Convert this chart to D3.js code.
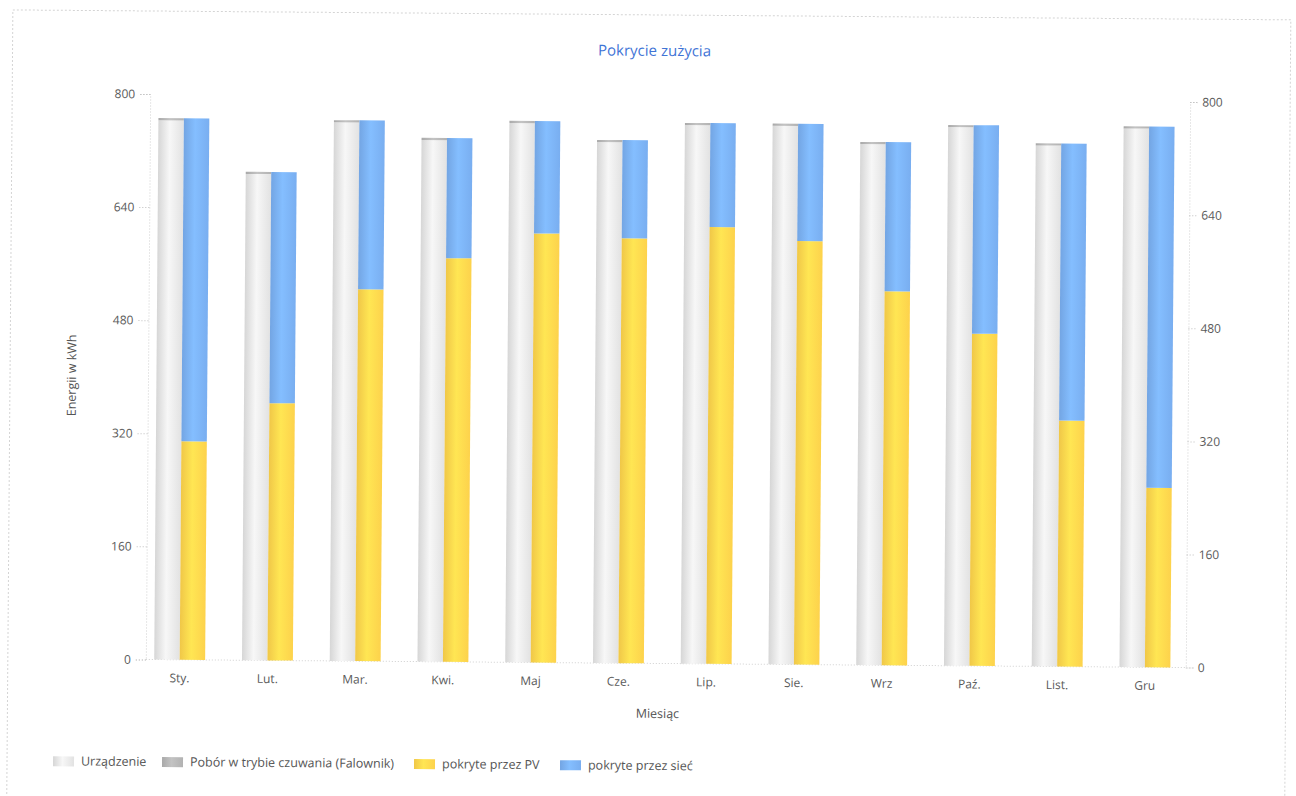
<!DOCTYPE html>
<html>
<head>
<meta charset="utf-8">
<script src="https://cdn.jsdelivr.net/npm/d3@7"></script>
<style>
  body { margin: 0; background: #fff; }
  svg text { font-family: "Open Sans", "DejaVu Sans", sans-serif; }
</style>
</head>
<body>
<svg id="chart" width="1296" height="796"></svg>
<script>
// dane wykresu
const months = ["Sty.", "Lut.", "Mar.", "Kwi.", "Maj", "Cze.", "Lip.", "Sie.", "Wrz", "Paź.", "List.", "Gru"];
const urzadzenie = [763, 688, 762, 738, 763, 737, 762, 762, 737, 762, 737, 762];
const czuwanie   = [3, 3, 3, 3, 3, 3, 3, 3, 3, 3, 3, 3];
const pokrytePV  = [309, 364, 526, 571, 607, 601, 618, 599, 529, 470, 348, 254];
const pokryteSiec = [457, 327, 239, 170, 159, 139, 147, 166, 211, 295, 392, 511];
const yTicks = [0, 160, 320, 480, 640, 800];
const legendNames = ["Urządzenie", "Pobór w trybie czuwania (Falownik)", "pokryte przez PV", "pokryte przez sieć"];

const colors = {
  urz: "#e2e2e2",
  czuw: "#b2b2b2",
  pv: "#fdd24c",
  siec: "#79aef0"
};

const svg = d3.select("#chart");
const defs = svg.append("defs");

// gradient "szklany" na słupkach
function glass(id, base) {
  const c = d3.color(base);
  const g = defs.append("linearGradient").attr("id", id)
    .attr("x1", "0%").attr("x2", "100%").attr("y1", "0%").attr("y2", "0%");
  g.append("stop").attr("offset", "0%").attr("stop-color", c.darker(0.15));
  g.append("stop").attr("offset", "45%").attr("stop-color", c.brighter(0.25));
  g.append("stop").attr("offset", "100%").attr("stop-color", c);
}
glass("gUrz", colors.urz);
glass("gCzuw", colors.czuw);
glass("gPv", colors.pv);
glass("gSiec", colors.siec);

// lekki obrót jak na skanie
const root = svg.append("g").attr("transform", "rotate(0.445, 665, 380)");

// ramka
root.append("rect")
  .attr("x", 10).attr("y", 15).attr("width", 1278).attr("height", 790)
  .attr("fill", "none").attr("stroke", "#d4d4d4").attr("stroke-dasharray", "2,2");

const plot = { left: 148, right: 1188, top: 98, bottom: 663.5 };

const x = d3.scaleBand().domain(months).range([138, 1191]).paddingInner(0).paddingOuter(0);
const groupW = x.bandwidth() * 0.58;
const xs = d3.scaleBand().domain(["a", "b"]).range([-groupW / 2, groupW / 2]).padding(0);
const y = d3.scaleLinear().domain([0, 800]).range([plot.bottom, plot.top]);

// tytuł
root.append("text")
  .attr("x", 652).attr("y", 56)
  .attr("text-anchor", "middle")
  .attr("font-size", 15)
  .attr("fill", "#3f74d6")
  .text("Pokrycie zużycia");

// osie
const axisLeft = d3.axisLeft(y).tickValues(yTicks).tickSize(10).tickPadding(5);
const axisRight = d3.axisRight(y).tickValues(yTicks).tickSize(8).tickPadding(4);
const axisBottom = d3.axisBottom(x).tickSize(0).tickPadding(14);

function styleAxis(sel) {
  sel.select(".domain").attr("stroke", "#cfcfcf").attr("stroke-dasharray", "1,2");
  sel.selectAll(".tick line").attr("stroke", "#bdbdbd").attr("stroke-dasharray", "1,2");
  sel.selectAll(".tick text").attr("fill", "#5a5a5a").attr("font-size", 12)
    .attr("font-family", "\"Open Sans\", \"DejaVu Sans\", sans-serif");
}

root.append("g").attr("transform", `translate(${plot.left},0)`).call(axisLeft).call(styleAxis);
root.append("g").attr("transform", `translate(${plot.right},0)`).call(axisRight).call(styleAxis);
const gx = root.append("g").attr("transform", `translate(0,${plot.bottom})`).call(axisBottom).call(styleAxis);
gx.select(".domain").attr("d", `M${plot.left},0H${plot.right}`);

// słupki
const rows = months.map((m, i) => ({
  m, urz: urzadzenie[i], czuw: czuwanie[i], pv: pokrytePV[i], siec: pokryteSiec[i]
}));

const bars = root.append("g");
rows.forEach(d => {
  const cx = x(d.m) + x.bandwidth() / 2;
  const xa = cx + xs("a"), xb = cx + xs("b"), w = xs.bandwidth();
  // stos 1: urządzenie + czuwanie
  bars.append("rect").attr("x", xa).attr("width", w)
    .attr("y", y(d.urz)).attr("height", y(0) - y(d.urz)).attr("fill", "url(#gUrz)");
  bars.append("rect").attr("x", xa).attr("width", w)
    .attr("y", y(d.urz + d.czuw)).attr("height", y(d.urz) - y(d.urz + d.czuw)).attr("fill", "url(#gCzuw)");
  // stos 2: PV + sieć
  bars.append("rect").attr("x", xb).attr("width", w)
    .attr("y", y(d.pv)).attr("height", y(0) - y(d.pv)).attr("fill", "url(#gPv)");
  bars.append("rect").attr("x", xb).attr("width", w)
    .attr("y", y(d.pv + d.siec)).attr("height", y(d.pv) - y(d.pv + d.siec)).attr("fill", "url(#gSiec)");
});

// tytuły osi
root.append("text")
  .attr("transform", "translate(76,380) rotate(-90)")
  .attr("text-anchor", "middle")
  .attr("font-size", 12.5).attr("fill", "#555")
  .text("Energii w kWh");

root.append("text")
  .attr("x", 660).attr("y", 718)
  .attr("text-anchor", "middle")
  .attr("font-size", 12.5).attr("fill", "#555")
  .text("Miesiąc");

// legenda
const legendFills = ["url(#gUrz)", "url(#gCzuw)", "url(#gPv)", "url(#gSiec)"];
const legendX = [56, 165, 417, 563];
const legend = root.append("g").attr("transform", "translate(0,766)");
legendNames.forEach((n, i) => {
  legend.append("rect").attr("x", legendX[i]).attr("y", -5).attr("width", 21).attr("height", 10)
    .attr("fill", legendFills[i]);
  legend.append("text").attr("x", legendX[i] + 28).attr("y", 4)
    .attr("font-size", 12.5).attr("fill", "#555").text(n);
});
</script>
</body>
</html>
